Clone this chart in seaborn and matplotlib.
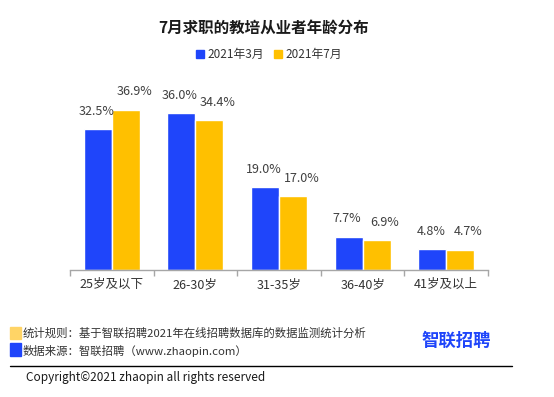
import matplotlib
matplotlib.use("Agg")
import matplotlib.pyplot as plt
import seaborn as sns
import pandas as pd
from matplotlib.patches import Rectangle

categories = ["25岁及以下", "26-30岁", "31-35岁", "36-40岁", "41岁及以上"]
series_names = ["2021年3月", "2021年7月"]
values_mar = [32.5, 36.0, 19.0, 7.7, 4.8]
values_jul = [36.9, 34.4, 17.0, 6.9, 4.7]

BLUE = "#1F45FA"
YELLOW = "#FFC000"

sns.set_theme(style="white")
plt.rcParams['font.family'] = ['Noto Sans CJK SC', 'DejaVu Sans']

df = pd.DataFrame({
    "cat": categories * 2,
    "series": [series_names[0]] * 5 + [series_names[1]] * 5,
    "val": values_mar + values_jul,
})

W, H = 554, 397
fig = plt.figure(figsize=(W / 100, H / 100), dpi=100)
ax = fig.add_axes([70 / W, 127 / H, 418 / W, 170 / H])

sns.barplot(data=df, x="cat", y="val", hue="series", order=categories,
            hue_order=series_names, palette=[BLUE, YELLOW], width=0.67,
            gap=0, saturation=1, ax=ax, legend=False, errorbar=None)

ax.set_xlim(-0.5, 4.5)
ax.set_ylim(0, 39.1)
x_shift = [-1, 6]
for i, c in enumerate(ax.containers):
    anns = ax.bar_label(c, labels=[f"{v:.1f}%" for v in c.datavalues], padding=8,
                        fontsize=9, color="#404040")
    for a in anns:
        a.xyann = (x_shift[i], 8)

for s in ["top", "right", "left"]:
    ax.spines[s].set_visible(False)
ax.spines["bottom"].set_color("#A6A6A6")
ax.spines["bottom"].set_linewidth(1)
ax.set_yticks([])
ax.set_xlabel("")
ax.set_ylabel("")
ax.tick_params(axis="x", which="major", length=0, labelsize=9, labelcolor="#333333", pad=6)
ax.set_xticks([i - 0.5 for i in range(6)], minor=True)
ax.tick_params(axis="x", which="minor", length=4, color="#A6A6A6", width=1, bottom=True, direction="out")

# title
fig.text(264 / W, 1 - 28 / H, "7月求职的教培从业者年龄分布", ha="center", va="center",
         fontsize=11.2, fontweight="bold", color="#1a1a1a")

# legend
fig.patches.append(Rectangle((196 / W, 1 - 58 / H), 8 / W, 8 / H, transform=fig.transFigure,
                             color=BLUE, figure=fig))
fig.text(207 / W, 1 - 54 / H, series_names[0], ha="left", va="center", fontsize=8.5, color="#333333")
fig.patches.append(Rectangle((274 / W, 1 - 58 / H), 8 / W, 8 / H, transform=fig.transFigure,
                             color=YELLOW, figure=fig))
fig.text(285 / W, 1 - 54 / H, series_names[1], ha="left", va="center", fontsize=8.5, color="#333333")

# footer
fig.patches.append(Rectangle((10 / W, 1 - 339 / H), 11 / W, 12 / H, transform=fig.transFigure,
                             color="#FFD466", figure=fig))
fig.text(23 / W, 1 - 333 / H, "统计规则：基于智联招聘2021年在线招聘数据库的数据监测统计分析",
         ha="left", va="center", fontsize=8.2, color="#333333")
fig.patches.append(Rectangle((10 / W, 1 - 356 / H), 11 / W, 13 / H, transform=fig.transFigure,
                             color=BLUE, figure=fig))
fig.text(23 / W, 1 - 351 / H, "数据来源：智联招聘（www.zhaopin.com）",
         ha="left", va="center", fontsize=8.2, color="#333333")
fig.text(421 / W, 1 - 341 / H, "智联招聘", ha="left", va="center", fontsize=12.5,
         fontweight="bold", color="#1F45FA")
fig.add_artist(plt.Line2D([10 / W, 512 / W], [1 - 366 / H, 1 - 366 / H],
                          transform=fig.transFigure, color="black", linewidth=1))
fig.text(26 / W, 1 - 377 / H, "Copyright©2021 zhaopin all rights reserved",
         ha="left", va="center", fontsize=8.5, color="#1a1a1a")

fig.savefig("out.png", dpi=100)
